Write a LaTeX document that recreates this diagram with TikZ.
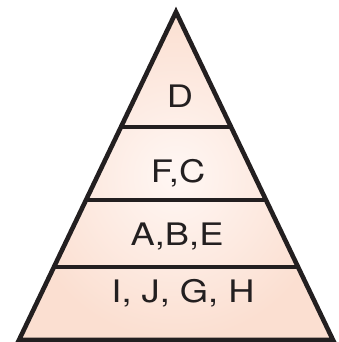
\documentclass[tikz,border=0pt]{standalone}
\usepackage{fontspec}
\setmainfont{TeX Gyre Heros}[FakeStretch=1.17]
\usetikzlibrary{calc}
\definecolor{tierink}{RGB}{35,31,32}
\definecolor{tierin}{RGB}{255,247,244}
\definecolor{tierout}{RGB}{251,223,209}
\tikzset{
  tier/.style={font=\fontsize{31}{36}\selectfont,text=tierink,inner sep=0pt,anchor=base},
  edge/.style={draw=tierink,line width=4.6pt},
}
\begin{document}
\begin{tikzpicture}[x=1pt,y=-1pt]
  \useasboundingbox (0,0) rectangle (338,342);
  \coordinate (top) at (176,12);
  \coordinate (bl) at (19,340);
  \coordinate (br) at (333,340);
  \shade[inner color=tierin,outer color=tierout] (top) -- (bl) -- (br) -- cycle;
  % tier boundaries
  \foreach \t in {0.3506,0.5732,0.7774}{
    \draw[edge] ($(top)!\t!(bl)$) -- ($(top)!\t!(br)$);
  }
  \draw[edge,line join=miter] (top) -- (bl) -- (br) -- cycle;
  \node[tier] (d) at (180,107) {D};
  \node[tier] (fc) at (178,182) {F,C};
  \node[tier] (abe) at (177,245) {A,B,E};
  \node[tier] (ijgh) at (183,302) {I, J, G, H};
\end{tikzpicture}
\end{document}
